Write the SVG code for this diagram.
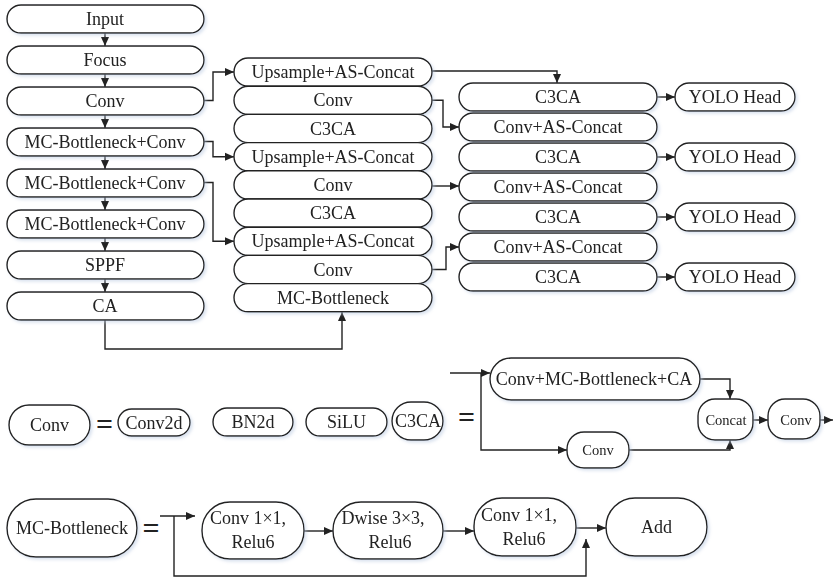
<svg xmlns="http://www.w3.org/2000/svg" width="833" height="584" viewBox="0 0 833 584">
<style>
  .b{fill:#fff;stroke:#222;stroke-width:1.4}
  .t{font-family:"Liberation Serif","Times New Roman",serif;font-size:18px;fill:#222;text-anchor:middle}
  .s{font-size:14.5px}
  .eq{font-family:"Liberation Serif",serif;font-size:30px;font-weight:bold;fill:#222;text-anchor:middle}
  .c{fill:none;stroke:#222;stroke-width:1.4}
</style>
<defs>
  <marker id="a" markerUnits="userSpaceOnUse" markerWidth="10" markerHeight="10" viewBox="0 0 10 10" refX="9" refY="5" orient="auto">
    <path d="M0,1 L9,5 L0,9 Z" fill="#222"/>
  </marker>
  <filter id="sh" x="-10%" y="-30%" width="120%" height="160%">
    <feGaussianBlur in="SourceAlpha" stdDeviation="1.5"/>
    <feOffset dx="1.5" dy="1.5" result="o"/>
    <feFlood flood-color="#b8c8e0" flood-opacity="0.5"/>
    <feComposite in2="o" operator="in"/>
    <feMerge><feMergeNode/><feMergeNode in="SourceGraphic"/></feMerge>
  </filter>
</defs>

<g id="connectors">
  <path class="c" d="M105,33 V46" marker-end="url(#a)"/>
  <path class="c" d="M105,74 V87" marker-end="url(#a)"/>
  <path class="c" d="M105,115 V128" marker-end="url(#a)"/>
  <path class="c" d="M105,156 V169" marker-end="url(#a)"/>
  <path class="c" d="M105,197 V210" marker-end="url(#a)"/>
  <path class="c" d="M105,238 V251" marker-end="url(#a)"/>
  <path class="c" d="M105,279 V292" marker-end="url(#a)"/>
  <path class="c" d="M204,100.5 H213 V72 H234" marker-end="url(#a)"/>
  <path class="c" d="M204,141.5 H213 V156.7 H234" marker-end="url(#a)"/>
  <path class="c" d="M204,182.5 H213 V241.3 H234" marker-end="url(#a)"/>
  <path class="c" d="M432,71 H557 V83" marker-end="url(#a)"/>
  <path class="c" d="M432,100.3 H443 V127 H459" marker-end="url(#a)"/>
  <path class="c" d="M432,186 H459" marker-end="url(#a)"/>
  <path class="c" d="M432,269.5 H446 V247 H459" marker-end="url(#a)"/>
  <path class="c" d="M105,320 V349 H342 V312" marker-end="url(#a)"/>
  <path class="c" d="M657,97 H675" marker-end="url(#a)"/>
  <path class="c" d="M657,157 H675" marker-end="url(#a)"/>
  <path class="c" d="M657,217 H675" marker-end="url(#a)"/>
  <path class="c" d="M657,277 H675" marker-end="url(#a)"/>
  <path class="c" d="M450,373 H490" marker-end="url(#a)"/>
  <path class="c" d="M481,373 V450 H567" marker-end="url(#a)"/>
  <path class="c" d="M700,379 H730 V399" marker-end="url(#a)"/>
  <path class="c" d="M629,450 H730 V440" marker-end="url(#a)"/>
  <path class="c" d="M753,420 H768" marker-end="url(#a)"/>
  <path class="c" d="M820,420 H833" marker-end="url(#a)"/>
  <path class="c" d="M160,516 H195" marker-end="url(#a)"/>
  <path class="c" d="M174,516 V576 H586 V539" marker-end="url(#a)"/>
  <path class="c" d="M304,531 H333" marker-end="url(#a)"/>
  <path class="c" d="M443,531 H474" marker-end="url(#a)"/>
  <path class="c" d="M576,528 H606" marker-end="url(#a)"/>
</g>

<g filter="url(#sh)">
<g id="input"><rect class="b" x="7" y="5" width="197" height="28" rx="14"/><text class="t" x="105" y="25">Input</text></g>
<g id="focus"><rect class="b" x="7" y="46" width="197" height="28" rx="14"/><text class="t" x="105" y="66">Focus</text></g>
<g id="conv1"><rect class="b" x="7" y="87" width="197" height="28" rx="14"/><text class="t" x="105" y="107">Conv</text></g>
<g id="mcb1"><rect class="b" x="7" y="128" width="197" height="28" rx="14"/><text class="t" x="105" y="148">MC-Bottleneck+Conv</text></g>
<g id="mcb2"><rect class="b" x="7" y="169" width="197" height="28" rx="14"/><text class="t" x="105" y="189">MC-Bottleneck+Conv</text></g>
<g id="mcb3"><rect class="b" x="7" y="210" width="197" height="28" rx="14"/><text class="t" x="105" y="230">MC-Bottleneck+Conv</text></g>
<g id="sppf"><rect class="b" x="7" y="251" width="197" height="28" rx="14"/><text class="t" x="105" y="271">SPPF</text></g>
<g id="ca"><rect class="b" x="7" y="292" width="197" height="28" rx="14"/><text class="t" x="105" y="312">CA</text></g>

<g id="up1"><rect class="b" x="234" y="58" width="198" height="28.2" rx="14"/><text class="t" x="333" y="78">Upsample+AS-Concat</text></g>
<g id="mconv1"><rect class="b" x="234" y="86.2" width="198" height="28.2" rx="14"/><text class="t" x="333" y="106.3">Conv</text></g>
<g id="mc3ca1"><rect class="b" x="234" y="114.4" width="198" height="28.2" rx="14"/><text class="t" x="333" y="134.5">C3CA</text></g>
<g id="up2"><rect class="b" x="234" y="142.6" width="198" height="28.2" rx="14"/><text class="t" x="333" y="162.7">Upsample+AS-Concat</text></g>
<g id="mconv2"><rect class="b" x="234" y="170.8" width="198" height="28.2" rx="14"/><text class="t" x="333" y="190.9">Conv</text></g>
<g id="mc3ca2"><rect class="b" x="234" y="199" width="198" height="28.2" rx="14"/><text class="t" x="333" y="219.1">C3CA</text></g>
<g id="up3"><rect class="b" x="234" y="227.2" width="198" height="28.2" rx="14"/><text class="t" x="333" y="247.3">Upsample+AS-Concat</text></g>
<g id="mconv3"><rect class="b" x="234" y="255.4" width="198" height="28.2" rx="14"/><text class="t" x="333" y="275.5">Conv</text></g>
<g id="mmcb"><rect class="b" x="234" y="283.6" width="198" height="28.2" rx="14"/><text class="t" x="333" y="303.7">MC-Bottleneck</text></g>

<g id="r3ca1"><rect class="b" x="459" y="83" width="198" height="28" rx="14"/><text class="t" x="558" y="103">C3CA</text></g>
<g id="rcat1"><rect class="b" x="459" y="113" width="198" height="28" rx="14"/><text class="t" x="558" y="133">Conv+AS-Concat</text></g>
<g id="r3ca2"><rect class="b" x="459" y="143" width="198" height="28" rx="14"/><text class="t" x="558" y="163">C3CA</text></g>
<g id="rcat2"><rect class="b" x="459" y="173" width="198" height="28" rx="14"/><text class="t" x="558" y="193">Conv+AS-Concat</text></g>
<g id="r3ca3"><rect class="b" x="459" y="203" width="198" height="28" rx="14"/><text class="t" x="558" y="223">C3CA</text></g>
<g id="rcat3"><rect class="b" x="459" y="233" width="198" height="28" rx="14"/><text class="t" x="558" y="253">Conv+AS-Concat</text></g>
<g id="r3ca4"><rect class="b" x="459" y="263" width="198" height="28" rx="14"/><text class="t" x="558" y="283">C3CA</text></g>

<g id="yolo1"><rect class="b" x="675" y="83" width="120" height="28" rx="14"/><text class="t" x="735" y="103">YOLO Head</text></g>
<g id="yolo2"><rect class="b" x="675" y="143" width="120" height="28" rx="14"/><text class="t" x="735" y="163">YOLO Head</text></g>
<g id="yolo3"><rect class="b" x="675" y="203" width="120" height="28" rx="14"/><text class="t" x="735" y="223">YOLO Head</text></g>
<g id="yolo4"><rect class="b" x="675" y="263" width="120" height="28" rx="14"/><text class="t" x="735" y="283">YOLO Head</text></g>

<g id="convdef"><rect class="b" x="9" y="405" width="81" height="40" rx="20"/><text class="t" x="49.5" y="431">Conv</text></g>
<g id="conv2d"><rect class="b" x="118" y="409" width="72" height="27" rx="13.5"/><text class="t" x="154" y="428.5">Conv2d</text></g>
<g id="bn2d"><rect class="b" x="213" y="408" width="80" height="28" rx="14"/><text class="t" x="253" y="428">BN2d</text></g>
<g id="silu"><rect class="b" x="306" y="408" width="81" height="28" rx="14"/><text class="t" x="346.5" y="428">SiLU</text></g>
<g id="c3cadef"><rect class="b" x="392" y="402" width="51" height="38" rx="19"/><text class="t" x="418" y="427">C3CA</text></g>
<g id="cmbca"><rect class="b" x="490" y="358" width="210" height="42" rx="21"/><text class="t" x="594" y="385">Conv+MC-Bottleneck+CA</text></g>
<g id="concat"><rect class="b" x="698" y="399" width="55" height="41" rx="17"/><text class="t s" x="726" y="425">Concat</text></g>
<g id="convr"><rect class="b" x="768" y="399" width="52" height="40" rx="17"/><text class="t s" x="796" y="424.5">Conv</text></g>
<g id="convl"><rect class="b" x="567" y="432" width="62" height="36" rx="17"/><text class="t s" x="598" y="455">Conv</text></g>

<g id="mcbdef"><rect class="b" x="7" y="499" width="130" height="58" rx="29"/><text class="t" x="72" y="534">MC-Bottleneck</text></g>
<g id="pw1"><rect class="b" x="202" y="502" width="102" height="57" rx="28"/><text class="t" x="248" y="523.5">Conv 1×1,</text><text class="t" x="253" y="547.5">Relu6</text></g>
<g id="dw"><rect class="b" x="333" y="502" width="110" height="57" rx="28"/><text class="t" x="383" y="523.5">Dwise 3×3,</text><text class="t" x="390" y="547.5">Relu6</text></g>
<g id="pw2"><rect class="b" x="474" y="498" width="102" height="58" rx="28"/><text class="t" x="519" y="521">Conv 1×1,</text><text class="t" x="524" y="545">Relu6</text></g>
<g id="add"><rect class="b" x="606" y="498" width="101" height="58" rx="29"/><text class="t" x="656.5" y="533">Add</text></g>
</g>

<text class="eq" x="104.5" y="434">=</text>
<text class="eq" x="466.5" y="427">=</text>
<text class="eq" x="151" y="538">=</text>
</svg>
